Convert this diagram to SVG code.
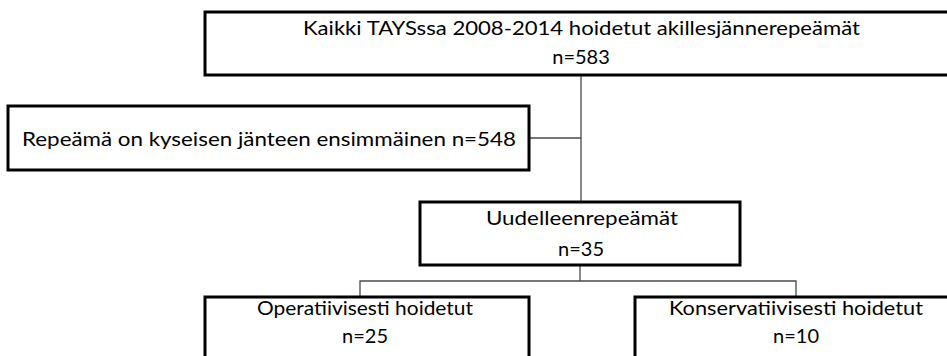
<svg xmlns="http://www.w3.org/2000/svg" width="947" height="356" viewBox="0 0 947 356">
<style>
.box{fill:#fff;stroke:#000;stroke-width:3}
.t{font-family:Lato,"Open Sans","Liberation Sans",sans-serif;font-size:20px;fill:#000}
.c{fill:none;stroke:#4a4a4a;stroke-width:1.3}
</style>
<rect width="947" height="356" fill="#fff"/>
<g id="connectors">
<line class="c" x1="581" y1="76" x2="581" y2="202"/>
<line class="c" x1="529" y1="138" x2="581" y2="138"/>
<line class="c" x1="580" y1="265" x2="580" y2="281"/>
<polyline class="c" points="360,297 360,281 796,281 796,297"/>
</g>
<g id="n-all">
<rect class="box" x="205" y="12" width="770" height="63"/>
<text class="t" x="303" y="35" textLength="557" lengthAdjust="spacingAndGlyphs">Kaikki TAYSssa 2008-2014 hoidetut akillesjännerepeämät</text>
<text class="t" x="581" y="64" text-anchor="middle">n=583</text>
</g>
<g id="n-first">
<rect class="box" x="8" y="106" width="521" height="64"/>
<text class="t" x="22" y="146" textLength="494" lengthAdjust="spacingAndGlyphs">Repeämä on kyseisen jänteen ensimmäinen n=548</text>
</g>
<g id="n-re">
<rect class="box" x="420" y="202" width="320" height="63"/>
<text class="t" x="486" y="225" textLength="192" lengthAdjust="spacingAndGlyphs">Uudelleenrepeämät</text>
<text class="t" x="581" y="256" text-anchor="middle">n=35</text>
</g>
<g id="n-op">
<rect class="box" x="205" y="297" width="324" height="80"/>
<text class="t" x="257" y="315" textLength="216" lengthAdjust="spacingAndGlyphs">Operatiivisesti hoidetut</text>
<text class="t" x="365" y="343" text-anchor="middle">n=25</text>
</g>
<g id="n-kons">
<rect class="box" x="635" y="297" width="340" height="80"/>
<text class="t" x="669" y="315" textLength="254" lengthAdjust="spacingAndGlyphs">Konservatiivisesti hoidetut</text>
<text class="t" x="796" y="343" text-anchor="middle">n=10</text>
</g>
</svg>
